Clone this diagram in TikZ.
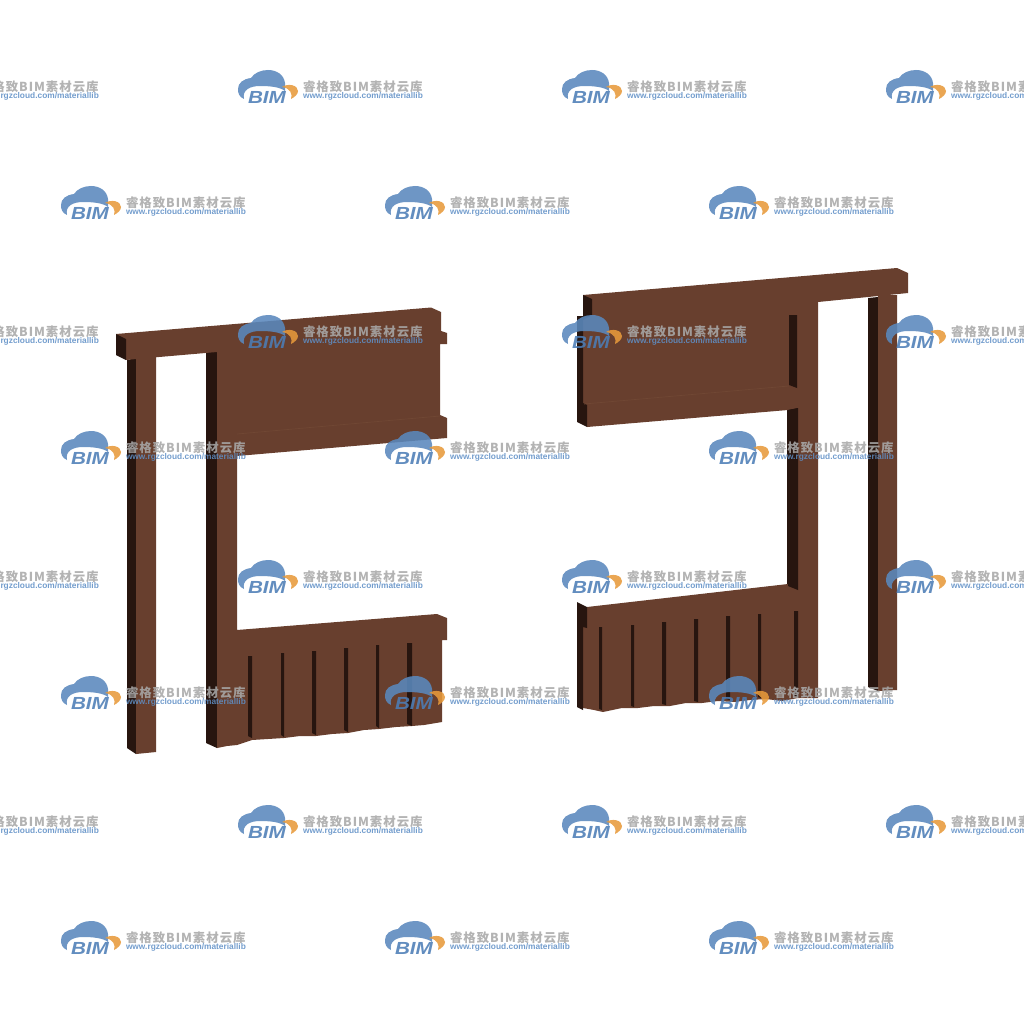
\documentclass[tikz,border=0pt]{standalone}
\usepackage{fontspec}
\setmainfont{Liberation Sans}
\newfontfamily\cjkwm[LetterSpace=8]{Noto Sans CJK SC}
\definecolor{wood}{HTML}{683F2E}
\definecolor{woodlite}{HTML}{704734}
\definecolor{wooddark}{HTML}{27150F}
\definecolor{wmblue}{HTML}{5A88BD}
\definecolor{wmbim}{HTML}{4C7DB6}
\definecolor{wmorange}{HTML}{E79A3B}
\definecolor{wmgrey}{HTML}{A8A8A8}
\definecolor{wmurl}{HTML}{5F8FC6}
\tikzset{
  front/.style={fill=wood,draw=none},
  shade side/.style={fill=wooddark,draw=none},
  ridge/.style={draw=woodlite,line width=.7pt},
  wmtext/.style={anchor=west,inner sep=0pt,outer sep=0pt},
}
\newcommand\wmark[2]{%
 \begin{scope}[shift={(#1,#2)},opacity=.88]
  \fill[wmblue] (6,29) .. controls (1,27) and (0,23) .. (0,19)
    .. controls (0,13) and (5,9) .. (13,8)
    .. controls (16,3) and (23,0) .. (30,0)
    .. controls (39,0) and (46,5) .. (47,13)
    .. controls (47,16) and (47,18) .. (47,21)
    .. controls (42,17) and (32,16) .. (22,16)
    .. controls (12,16) and (4,20) .. (6,29) -- cycle;
  \fill[wmorange] (44,17) .. controls (50,13) and (60,15) .. (60,21)
    .. controls (60,24) and (57,27) .. (53,29)
    .. controls (55,24) and (52,18) .. (44,17) -- cycle;
  \node[wmtext,text=wmbim,font=\fontsize{17.5}{18}\bfseries\itshape,xscale=1.18] at (10,27) {BIM};
  \node[wmtext,text=wmgrey,font=\fontsize{12.4}{13}\cjkwm\bfseries] at (65,17) {睿格致BIM素材云库};
  \node[wmtext,text=wmurl,font=\fontsize{8.35}{8.4}\bfseries] at (65,26) {www.rgzcloud.com/materiallib};
 \end{scope}}
\begin{document}
\begin{tikzpicture}[x=1pt,y=-1pt]
\useasboundingbox (0,0) rectangle (1024,1024);
\clip (0,0) rectangle (1024,1024);
% ---------- left frame ----------
\fill[shade side] (127,360) -- (136,358) -- (136,754) -- (127,748) -- cycle;
\fill[front] (136,356) -- (156,356) -- (156,752) -- (146,753) -- (136,754) -- cycle;
\fill[shade side] (206,350) -- (217,350) -- (217,748) -- (206,743) -- cycle;
\fill[front] (116,334) -- (431,307.5) -- (441,312) -- (441,331) -- (447,333) -- (447,344) -- (440,344)
  -- (440,415) -- (447,418) -- (447,438) -- (237,456) -- (237,630) -- (437,614) -- (447,618) -- (447,640)
  -- (442,640) -- (442,722) -- (424,725) -- (412,726) -- (396,727) -- (379,729) -- (364,730) -- (348,733)
  -- (332,734) -- (316,736) -- (300,736) -- (284,738) -- (268,739) -- (252,740) -- (237,745)
  -- (227,746) -- (217,748) -- (217,352) -- (136,359) -- (126,360) -- cycle;
\fill[shade side] (116,334) -- (126,339) -- (126,360) -- (116,355) -- cycle;
\draw[ridge] (237,434) -- (440,416);
\foreach \xa/\xb/\ya/\yb in {248/252/656/738,281/284/653/737,312/316/651/735,344/348/648/732,376/379/645/728,407/412/643/726}
  {\fill[shade side] (\xa,\ya) -- (\xb,\ya) -- (\xb,\yb) -- (\xa,\yb-2) -- cycle;}
% ---------- right frame ----------
\fill[shade side] (868,298) -- (878,297) -- (878,691) -- (868,687) -- cycle;
\fill[front] (878,295) -- (897,295) -- (897,690) -- (878,691) -- cycle;
\fill[shade side] (787,408) -- (798,408) -- (798,590) -- (787,586) -- cycle;
\fill[front] (583,295) -- (897,268) -- (908,273) -- (908,293) -- (818,302) -- (818,698) -- (798,698)
  -- (782,701) -- (766,699) -- (750,700) -- (734,702) -- (718,701) -- (702,703) -- (686,703) -- (670,706)
  -- (654,706) -- (638,708) -- (622,708) -- (603,712) -- (594,710) -- (583,708) -- (583,627) -- (587,607)
  -- (788,584) -- (798,588) -- (798,408) -- (788,410) -- (587,427) -- (583,403) -- (583,320) -- cycle;
\fill[shade side] (583,295) -- (592,299) -- (592,315) -- (583,320) -- (583,403) -- (587,405) -- (587,427)
  -- (577,422) -- (577,316) -- (583,316) -- cycle;
\fill[shade side] (577,602) -- (587,607) -- (587,628) -- (583,627) -- (583,710) -- (577,707) -- cycle;
\fill[shade side] (789,315) -- (797,315) -- (797,388) -- (789,385) -- cycle;
\fill[shade side] (788,410) -- (798,408) -- (798,590) -- (788,586) -- cycle;
\draw[ridge] (584,404) -- (789,386);
\foreach \xa/\xb/\ya/\yb in {599/602/627/710,631/634/625/707,662/666/622/705,694/698/619/702,726/730/616/700,758/761/614/698,794/798/611/697}
  {\fill[shade side] (\xa,\ya) -- (\xb,\ya) -- (\xb,\yb) -- (\xa,\yb-1) -- cycle;}
% ---------- watermarks ----------
\foreach \wy in {70,315,560,805} {\foreach \wx in {-86,238,562,886} {\wmark{\wx}{\wy}}}
\foreach \wy in {186,431,676,921} {\foreach \wx in {61,385,709} {\wmark{\wx}{\wy}}}
\end{tikzpicture}
\end{document}
